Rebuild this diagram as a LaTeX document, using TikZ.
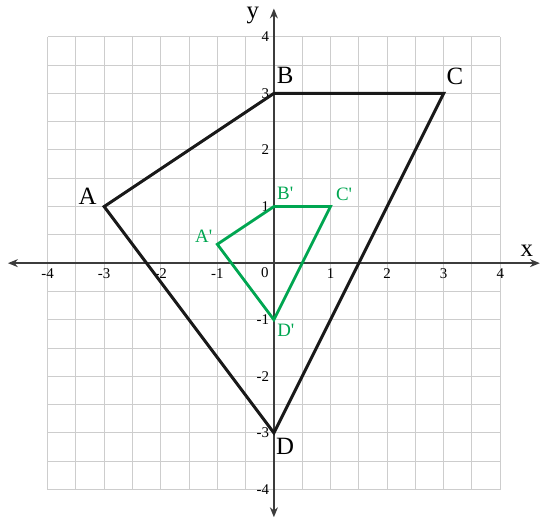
\documentclass[tikz,border=0pt]{standalone}
\usepackage{fontspec}
\setmainfont{Liberation Serif}
\newfontfamily\plainserif{Liberation Serif}
\usetikzlibrary{arrows.meta}
\definecolor{grn}{RGB}{0,166,81}
\definecolor{gridc}{RGB}{205,205,205}
\definecolor{axc}{RGB}{60,60,60}
\tikzset{
  gridline/.style={gridc, line width=0.5pt},
  axisline/.style={axc, line width=0.8pt, {Stealth[length=5pt,width=4pt]}-{Stealth[length=5pt,width=4pt]}},
  bigpoly/.style={black!90, line width=1.5pt, line join=miter},
  smallpoly/.style={grn, line width=1.4pt, line join=miter},
  ticklab/.style={font=\fontsize{7.5}{8}\selectfont, inner sep=0pt},
  biglab/.style={font=\fontsize{12.5}{14}\selectfont, inner sep=0pt},
  smalllab/.style={grn, font=\plainserif\fontsize{9.5}{11}\selectfont, inner sep=0pt},
}
\begin{document}
\begin{tikzpicture}[x=1cm,y=1cm]
\useasboundingbox (-4.84,-4.49) rectangle (4.72,4.65);
% grid
\draw[gridline] (-4,-4) grid[step=0.5] (4,4);
% axes
\coordinate (xl) at (-4.7,0);
\coordinate (xr) at (4.7,0);
\coordinate (yb) at (0,-4.49);
\coordinate (yt) at (0,4.5);
\draw[axisline] (xl) -- (xr);
\draw[axisline] (yb) -- (yt);
\node[biglab] (xlab) at (4.47,0.22) {x};
\node[biglab] (ylab) at (-0.37,4.38) {y};
% tick labels
\foreach \k in {-4,-3,-2,-1,1,2,3,4} {
  \node[ticklab] (tx\k) at (\k,-0.18) {\k};
  \node[ticklab, anchor=east] (ty\k) at (-0.08,\k) {\k};
}
\node[ticklab] (t0) at (-0.16,-0.17) {0};
% big quadrilateral
\coordinate (A) at (-3,1);
\coordinate (B) at (0,3);
\coordinate (C) at (3,3);
\coordinate (D) at (0,-3);
\draw[bigpoly] (A) -- (B) -- (C) -- (D) -- cycle;
\node[biglab] (la) at (-3.29,1.18) {A};
\node[biglab] (lb) at (0.2,3.32) {B};
\node[biglab] (lc) at (3.2,3.3) {C};
\node[biglab] (ld) at (0.2,-3.24) {D};
% small quadrilateral
\coordinate (A1) at (-1,1/3);
\coordinate (B1) at (0,1);
\coordinate (C1) at (1,1);
\coordinate (D1) at (0,-1);
\draw[smallpoly] (A1) -- (B1) -- (C1) -- (D1) -- cycle;
\node[smalllab] (la1) at (-1.24,0.48) {A'};
\node[smalllab] (lb1) at (0.2,1.24) {B'};
\node[smalllab] (lc1) at (1.24,1.22) {C'};
\node[smalllab] (ld1) at (0.21,-1.18) {D'};
\end{tikzpicture}
\end{document}
